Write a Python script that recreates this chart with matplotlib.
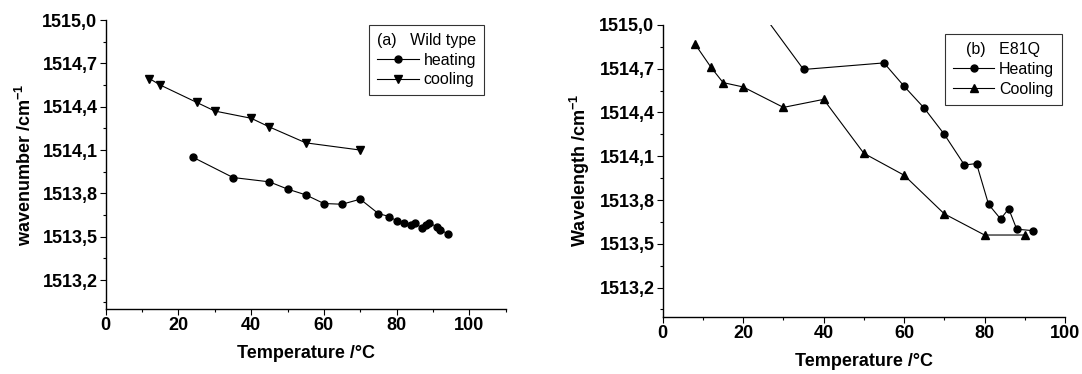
import numpy as np
import matplotlib
matplotlib.use("Agg")
import matplotlib.pyplot as plt
from matplotlib.ticker import FixedLocator, MultipleLocator, FuncFormatter

plt.rcParams["font.family"] = ["Liberation Sans", "DejaVu Sans"]
plt.rcParams["mathtext.default"] = "regular"

# (a) wild type
wt_heat_t = [24, 35, 45, 50, 55, 60, 65, 70, 75, 78, 80, 82, 84, 85, 87, 88, 89, 91, 92, 94]
wt_heat_v = [1514.05, 1513.91, 1513.88, 1513.83, 1513.79, 1513.73, 1513.725, 1513.76,
             1513.66, 1513.64, 1513.61, 1513.595, 1513.58, 1513.595, 1513.56, 1513.58,
             1513.595, 1513.57, 1513.55, 1513.52]
wt_cool_t = [12, 15, 25, 30, 40, 45, 55, 70]
wt_cool_v = [1514.595, 1514.55, 1514.43, 1514.37, 1514.32, 1514.26, 1514.15, 1514.10]

# (b) E81Q (first heating point lies above the plotted range)
mut_heat_t = [25, 35, 55, 60, 65, 70, 75, 78, 81, 84, 86, 88, 92]
mut_heat_v = [1515.07, 1514.695, 1514.74, 1514.58, 1514.43, 1514.25, 1514.04, 1514.05,
              1513.77, 1513.67, 1513.74, 1513.60, 1513.59]
mut_cool_t = [8, 12, 15, 20, 30, 40, 50, 60, 70, 80, 90]
mut_cool_v = [1514.87, 1514.71, 1514.605, 1514.575, 1514.435, 1514.49, 1514.12, 1513.97,
              1513.705, 1513.56, 1513.56]

y_major = [1513.2, 1513.5, 1513.8, 1514.1, 1514.4, 1514.7, 1515.0]
y_minor = [1513.05, 1513.35, 1513.65, 1513.95, 1514.25, 1514.55, 1514.85]

comma = FuncFormatter(lambda v, pos: f"{v:.1f}".replace(".", ","))

fig = plt.figure(figsize=(10.82, 3.74), dpi=100)
ax1 = fig.add_axes([0.0977, 0.1738, 0.3697, 0.7727])
ax2 = fig.add_axes([0.6125, 0.1532, 0.3718, 0.7800])


def style(ax, xmax, ylabel):
    ax.set_xlim(0, xmax)
    ax.set_ylim(1513.0, 1515.0)
    for s in ["top", "right"]:
        ax.spines[s].set_visible(False)
    for s in ["left", "bottom"]:
        ax.spines[s].set_linewidth(1.0)
    ax.xaxis.set_major_locator(MultipleLocator(20))
    ax.xaxis.set_minor_locator(MultipleLocator(10))
    ax.yaxis.set_major_locator(FixedLocator(y_major))
    ax.yaxis.set_minor_locator(FixedLocator(y_minor))
    ax.yaxis.set_major_formatter(comma)
    ax.tick_params(which="major", direction="out", length=4, width=0.8, labelsize=13, pad=2)
    ax.tick_params(which="minor", direction="out", length=2.5, width=0.8)
    for lab in ax.get_xticklabels() + ax.get_yticklabels():
        lab.set_fontweight("bold")
    ax.set_xlabel("Temperature /°C", fontsize=13, fontweight="bold", labelpad=8)
    ax.set_ylabel(ylabel, fontsize=13, fontweight="bold", labelpad=5)


ax1.plot(wt_heat_t, wt_heat_v, "-o", color="black", lw=0.8, ms=5, label="heating")
ax1.plot(wt_cool_t, wt_cool_v, "-v", color="black", lw=0.8, ms=6, label="cooling")
style(ax1, 110, "wavenumber /cm$^{-1}$")
leg1 = ax1.legend(title="(a)   Wild type", loc="upper right", bbox_to_anchor=(0.946, 0.983),
                  fancybox=False, edgecolor="black", fontsize=11.5, title_fontsize=11.5,
                  handlelength=2.6, handletextpad=0.3, borderpad=0.5, labelspacing=0.3,
                  borderaxespad=0)
leg1.get_frame().set_linewidth(0.8)

ax2.plot(mut_heat_t, mut_heat_v, "-o", color="black", lw=0.8, ms=5, label="Heating")
ax2.plot(mut_cool_t, mut_cool_v, "-^", color="black", lw=0.8, ms=6, label="Cooling")
style(ax2, 100, "Wavelength /cm$^{-1}$")
leg2 = ax2.legend(title="(b)   E81Q", loc="upper right", bbox_to_anchor=(0.993, 0.969),
                  fancybox=False, edgecolor="black", fontsize=11.5, title_fontsize=11.5,
                  handlelength=2.6, handletextpad=0.3, borderpad=0.5, labelspacing=0.3,
                  borderaxespad=0)
leg2.get_frame().set_linewidth(0.8)

fig.savefig("out.png", dpi=100)
